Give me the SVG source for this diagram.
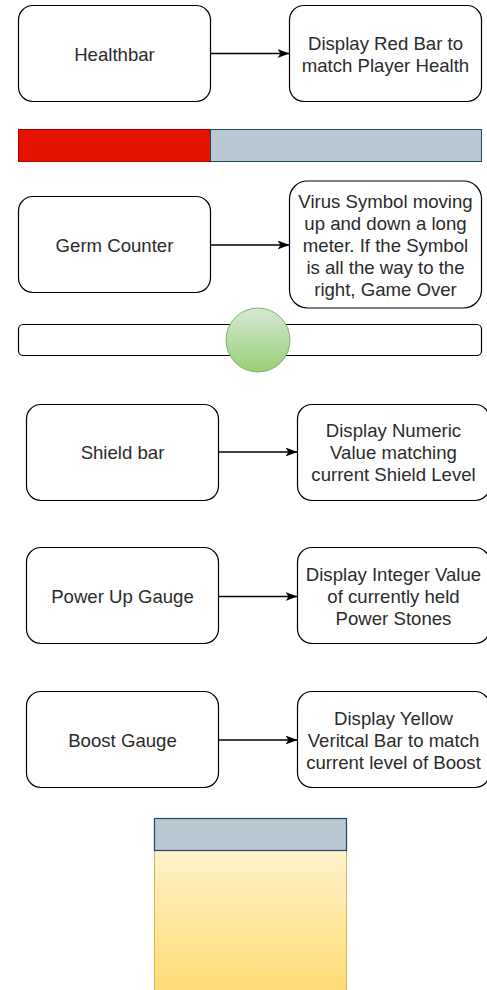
<svg xmlns="http://www.w3.org/2000/svg" width="487" height="990" viewBox="0 0 487 990">
<defs>
<style>
.box{fill:#ffffff;stroke:#000000;stroke-width:1.2}
.t{font-family:"Liberation Sans",Arial,sans-serif;font-size:18.6px;fill:#2b2b2b;text-anchor:middle}
.edge{stroke:#000000;stroke-width:1.3;fill:none}
</style>
<linearGradient id="gGreen" x1="0" y1="0" x2="0" y2="1">
<stop offset="0" stop-color="#d5e8d4"/>
<stop offset="1" stop-color="#97d077"/>
</linearGradient>
<linearGradient id="gYellow" x1="0" y1="0" x2="0" y2="1">
<stop offset="0" stop-color="#fff2cc"/>
<stop offset="1" stop-color="#ffd966"/>
</linearGradient>
<marker id="arr" viewBox="0 0 12 9" refX="11.5" refY="4.5" markerWidth="12" markerHeight="9" markerUnits="userSpaceOnUse" orient="auto">
<path d="M0,0 L12,4.5 L0,9 L3,4.5 Z" fill="#000000"/>
</marker>
</defs>
<rect width="487" height="990" fill="#ffffff"/>

<g id="connectors">
<line class="edge" x1="210.5" y1="53.5" x2="289" y2="53.5" marker-end="url(#arr)"/>
<line class="edge" x1="210.5" y1="245" x2="289" y2="245" marker-end="url(#arr)"/>
<line class="edge" x1="218.5" y1="452" x2="297" y2="452" marker-end="url(#arr)"/>
<line class="edge" x1="218.5" y1="596.5" x2="297" y2="596.5" marker-end="url(#arr)"/>
<line class="edge" x1="218.5" y1="740" x2="297" y2="740" marker-end="url(#arr)"/>
</g>

<g id="healthbar">
<rect class="box" x="18.5" y="5.5" width="192" height="96" rx="14.4"/>
<text class="t" x="114.5" y="60.5">Healthbar</text>
</g>
<g id="health-display">
<rect class="box" x="289.5" y="5.5" width="192" height="96" rx="14.4"/>
<text class="t" x="385.5" y="49.5">Display Red Bar to</text>
<text class="t" x="385.5" y="71.5">match Player Health</text>
</g>
<g id="health-meter">
<rect x="18.5" y="129.5" width="192" height="32" fill="#e51400" stroke="#b20000" stroke-width="1"/>
<rect x="210.5" y="129.5" width="271" height="32" fill="#bac8d3" stroke="#23445d" stroke-width="1"/>
</g>

<g id="germ-counter">
<rect class="box" x="18.5" y="196.5" width="192" height="96" rx="14.4"/>
<text class="t" x="114.5" y="251.5">Germ Counter</text>
</g>
<g id="germ-display">
<rect class="box" x="289.5" y="181" width="192" height="127" rx="18"/>
<text class="t" x="385.5" y="207.5">Virus Symbol moving</text>
<text class="t" x="385.5" y="229.5">up and down a long</text>
<text class="t" x="385.5" y="251.5">meter. If the Symbol</text>
<text class="t" x="385.5" y="273.5">is all the way to the</text>
<text class="t" x="385.5" y="295.5">right, Game Over</text>
</g>
<g id="germ-meter">
<rect class="box" x="18.5" y="324.5" width="463" height="31" rx="4.6"/>
<circle cx="258" cy="340" r="32" fill="url(#gGreen)" stroke="#82b366" stroke-width="1"/>
</g>

<g id="shield-bar">
<rect class="box" x="26.5" y="404.5" width="192" height="96" rx="14.4"/>
<text class="t" x="122.5" y="459">Shield bar</text>
</g>
<g id="shield-display">
<rect class="box" x="297.5" y="404.5" width="192" height="96" rx="14.4"/>
<text class="t" x="393.5" y="437">Display Numeric</text>
<text class="t" x="393.5" y="459">Value matching</text>
<text class="t" x="393.5" y="481">current Shield Level</text>
</g>

<g id="powerup-gauge">
<rect class="box" x="26.5" y="547.5" width="192" height="96" rx="14.4"/>
<text class="t" x="122.5" y="602.5">Power Up Gauge</text>
</g>
<g id="powerup-display">
<rect class="box" x="297.5" y="547.5" width="192" height="96" rx="14.4"/>
<text class="t" x="393.5" y="580.5">Display Integer Value</text>
<text class="t" x="393.5" y="602.5">of currently held</text>
<text class="t" x="393.5" y="624.5">Power Stones</text>
</g>

<g id="boost-gauge">
<rect class="box" x="26.5" y="691.5" width="192" height="96" rx="14.4"/>
<text class="t" x="122.5" y="746.5">Boost Gauge</text>
</g>
<g id="boost-display">
<rect class="box" x="297.5" y="691.5" width="192" height="96" rx="14.4"/>
<text class="t" x="393.5" y="724.5">Display Yellow</text>
<text class="t" x="393.5" y="746.5">Veritcal Bar to match</text>
<text class="t" x="393.5" y="768.5">current level of Boost</text>
</g>

<g id="boost-meter">
<rect x="154.5" y="850.5" width="192" height="160" fill="url(#gYellow)" stroke="#d6b656" stroke-width="1"/>
<rect x="154.5" y="818.5" width="192" height="32" fill="#bac8d3" stroke="#23445d" stroke-width="1.2"/>
</g>
</svg>
